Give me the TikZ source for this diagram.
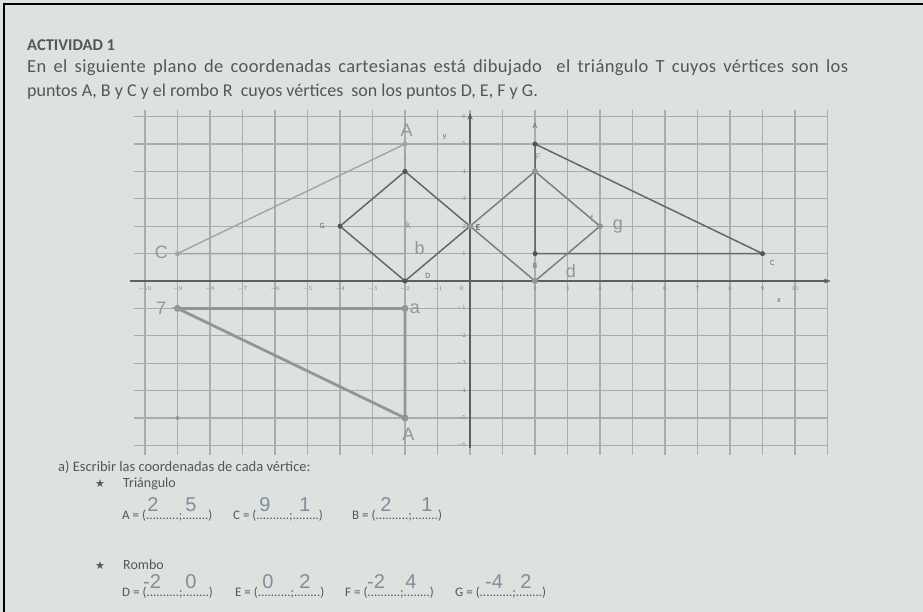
\documentclass[tikz,border=0pt]{standalone}
\usepackage{fontspec}
\setmainfont{Carlito}
\newfontfamily\symfont{DejaVu Sans}
\newfontfamily\handfont{Liberation Sans}
\usetikzlibrary{arrows.meta}
\definecolor{bgc}{RGB}{221,226,222}
\definecolor{txtc}{RGB}{82,88,84}
\definecolor{gridc}{RGB}{168,174,170}
\definecolor{axisc}{RGB}{92,97,94}
\definecolor{figc}{RGB}{100,105,102}
\definecolor{pencilc}{RGB}{160,166,163}
\definecolor{pencild}{RGB}{145,151,148}
\definecolor{handc}{RGB}{128,142,156}
\tikzset{
  txt/.style={text=txtc, inner sep=0pt, anchor=base west},
  tick/.style={text=axisc!80, font=\fontsize{6.5}{7}\selectfont, inner sep=0pt},
  dotd/.style={circle, fill=figc!80!black, inner sep=0pt, minimum size=5pt},
  dotl/.style={circle, fill=pencild, inner sep=0pt, minimum size=6pt},
  hand/.style={text=handc, font=\handfont\fontsize{20}{22}\selectfont, inner sep=0pt},
  handg/.style={text=pencild, font=\handfont\fontsize{15}{18}\selectfont, inner sep=0pt},
  plbl/.style={text=figc, font=\fontsize{8}{9}\selectfont, inner sep=0pt},
  figline/.style={draw=figc, line width=1.5pt},
  pencil/.style={draw=pencilc, line width=1.4pt},
  pencilthick/.style={draw=pencild, line width=2.8pt, line cap=round},
  ans/.style={txt, font=\fontsize{13}{15}\selectfont}
}
\begin{document}
\begin{tikzpicture}[x=1pt,y=-1pt]
\useasboundingbox (0,0) rectangle (923,612);
\fill[bgc] (0,0) rectangle (923,612);
\draw[black, line width=2pt] (4,612) -- (4,4) -- (923,4);

% header text
\node[txt, font=\bfseries\fontsize{16.5}{19}\selectfont] (title) at (27,51) {ACTIVIDAD 1};
\node[txt, font=\fontsize{18.5}{21}\selectfont] (line1) at (27,73) {\addfontfeatures{LetterSpace=2}\makebox[821pt][s]{En el siguiente plano de coordenadas cartesianas está dibujado\ \ el triángulo T cuyos vértices son los}};
\node[txt, font=\fontsize{18}{21}\selectfont] (line2) at (27,97) {puntos A, B y C y el rombo R\ \ cuyos vértices\ \ son los puntos D, E, F y G.};

% graph
\begin{scope}[shift={(470,281)}, x=32.5pt, y=27.4pt]
  \foreach \j in {-6,...,6} \draw[gridc, line width=1.3pt] (-10.35,\j) -- (11,\j);
  \foreach \i in {-10,...,11} \draw[gridc, line width=1.3pt] (\i,-6.35) -- (\i,6.25);
  \coordinate (xs) at (-10.45,0); \coordinate (xe) at (11.1,0);
  \coordinate (ys) at (0,-6.1); \coordinate (ye) at (0,6.15);
  \draw[axisc, line width=1.6pt, -{Stealth[length=7pt,width=5pt]}] (xs) -- (xe);
  \draw[axisc, line width=1.6pt, -{Stealth[length=7pt,width=5pt]}] (ys) -- (ye);
  \foreach \i in {-10,...,-1,1,2,...,10} \node[tick] (tx\i) at (\i,-0.28) {$\i$};
  \node[tick] (tx0) at (-0.25,-0.28) {0};
  \foreach \j in {-6,...,-1,1,2,...,6} \node[tick, anchor=east] (ty\j) at (-0.12,\j) {$\j$};
  \node[plbl, font=\itshape\fontsize{8}{9}\selectfont] (ylab) at (-0.78,5.25) {y};
  \node[plbl, font=\itshape\fontsize{8}{9}\selectfont] (xlab) at (9.5,-0.72) {x};

  % vertices
  \coordinate (A) at (2,5); \coordinate (B) at (2,1); \coordinate (C) at (9,1);
  \coordinate (D) at (-2,0); \coordinate (E) at (0,2); \coordinate (F) at (-2,4); \coordinate (G) at (-4,2);
  \coordinate (Fr) at (2,4); \coordinate (Gr) at (4,2); \coordinate (Dr) at (2,0);
  \coordinate (Al) at (-2,5); \coordinate (Bl) at (-2,1); \coordinate (Cl) at (-9,1);
  \coordinate (P1) at (-9,-1); \coordinate (P2) at (-2,-1); \coordinate (P3) at (-2,-5);
  \coordinate (P4) at (-9,-5);

  % student pencil triangles
  \draw[pencil] (Cl) -- (Al) -- (Bl) -- cycle;
  \draw[pencilthick] (P1) -- (P2) -- (P3) -- cycle;
  % printed figures
  \draw[figline] (A) -- (B) -- (C) -- cycle;
  \draw[figline] (D) -- (E) -- (F) -- (G) -- cycle;
  \draw[figline, draw=figc!85] (E) -- (Fr) -- (Gr) -- (Dr) -- cycle;

  % dots
  \node[dotd] (dA) at (A) {}; \node[dotd] (dB) at (B) {}; \node[dotd] (dC) at (C) {};
  \node[dotd] (dD) at (D) {}; \node[dotd] (dF) at (F) {}; \node[dotd] (dG) at (G) {};
  \node[dotl] (dE) at (E) {}; \node[dotl] (dFr) at (Fr) {}; \node[dotl] (dGr) at (Gr) {};
  \node[dotl] (dDr) at (Dr) {};
  \node[dotl, minimum size=5pt, fill=pencilc] (dAl) at (Al) {}; \node[dotl, minimum size=5pt, fill=pencilc] (dCl) at (Cl) {};
  \node[dotl, minimum size=7pt] (dP1) at (P1) {}; \node[dotl, minimum size=7pt] (dP2) at (P2) {}; \node[dotl, minimum size=7pt] (dP3) at (P3) {};
  \node[dotl, minimum size=4pt, fill=figc!70] (dP4) at (P4) {};

  % printed labels
  \node[plbl] (lA) at (2,5.65) {A};
  \node[plbl] (lB) at (2,0.55) {B};
  \node[plbl] (lC) at (9.3,0.65) {C};
  \node[plbl] (lG) at (-4.55,2) {G};
  \node[plbl] (lD) at (-1.3,0.2) {D};
  \node[plbl, font=\bfseries\fontsize{9}{10}\selectfont] (lE) at (0.25,1.95) {E};

  % handwritten marks
  \node[handg, font=\handfont\fontsize{18}{20}\selectfont] (hA1) at (-1.95,5.5) {A};
  \node[handg, font=\handfont\fontsize{9}{10}\selectfont] (hF1) at (-2,4.45) {f};
  \node[handg, font=\handfont\fontsize{10}{11}\selectfont] (hK) at (-1.9,2.05) {k};
  \node[handg, font=\handfont\fontsize{18}{20}\selectfont] (hb) at (-1.55,1.2) {b};
  \node[handg, font=\handfont\fontsize{18}{20}\selectfont] (hC) at (-9.5,1.05) {C};
  \node[handg, font=\handfont\fontsize{8}{9}\selectfont] (hF2) at (2.1,4.55) {F};
  \node[handg, font=\handfont\fontsize{9}{10}\selectfont] (hF3) at (3.75,2.3) {f};
  \node[handg, font=\handfont\fontsize{18}{20}\selectfont] (hg) at (4.55,2.0) {g};
  \node[handg, font=\handfont\fontsize{18}{20}\selectfont] (hd) at (3.1,0.35) {d};
  \node[handg, font=\handfont\fontsize{18}{20}\selectfont] (h7) at (-9.5,-1.0) {7};
  \node[handg, font=\handfont\fontsize{18}{20}\selectfont] (ha) at (-1.7,-1.0) {a};
  \node[handg, font=\handfont\fontsize{18}{20}\selectfont] (hA2) at (-1.9,-5.6) {A};
\end{scope}

% questions
\node[txt, font=\fontsize{14.5}{17}\selectfont] (qa) at (58,471) {a) Escribir las coordenadas de cada vértice:};
\node[txt, font=\symfont\fontsize{11}{13}\selectfont] (s1) at (95,487) {★};
\node[txt, font=\fontsize{14}{16}\selectfont] (tri) at (123,487) {Triángulo};
\node[ans] (ansA) at (122,519) {A = (..........;........)};
\node[ans] (ansC) at (233,519) {C = (..........;........)};
\node[ans] (ansB) at (352,519) {B = (..........;........)};
\node[txt, font=\symfont\fontsize{11}{13}\selectfont] (s2) at (95,569) {★};
\node[txt, font=\fontsize{14}{16}\selectfont] (rom) at (123,569) {Rombo};
\node[ans] (ansD) at (122,596) {D = (..........;........)};
\node[ans] (ansE) at (235,596) {E = (..........;........)};
\node[ans] (ansF) at (345,596) {F = (..........;........)};
\node[ans] (ansG) at (455,596) {G = (..........;........)};

% handwritten answers
\node[hand] (a1) at (153,505) {2};
\node[hand] (a2) at (191,505) {5};
\node[hand] (c1) at (265,505) {9};
\node[hand] (c2) at (305,505) {1};
\node[hand] (b1) at (386,505) {2};
\node[hand] (b2) at (427,505) {1};
\node[hand] (d1) at (152,582) {-2};
\node[hand] (d2) at (191,582) {0};
\node[hand] (e1) at (268,582) {0};
\node[hand] (e2) at (305,582) {2};
\node[hand] (f1) at (376,582) {-2};
\node[hand] (f2) at (411,582) {4};
\node[hand] (g1) at (494,582) {-4};
\node[hand] (g2) at (526,582) {2};
\end{tikzpicture}
\end{document}
